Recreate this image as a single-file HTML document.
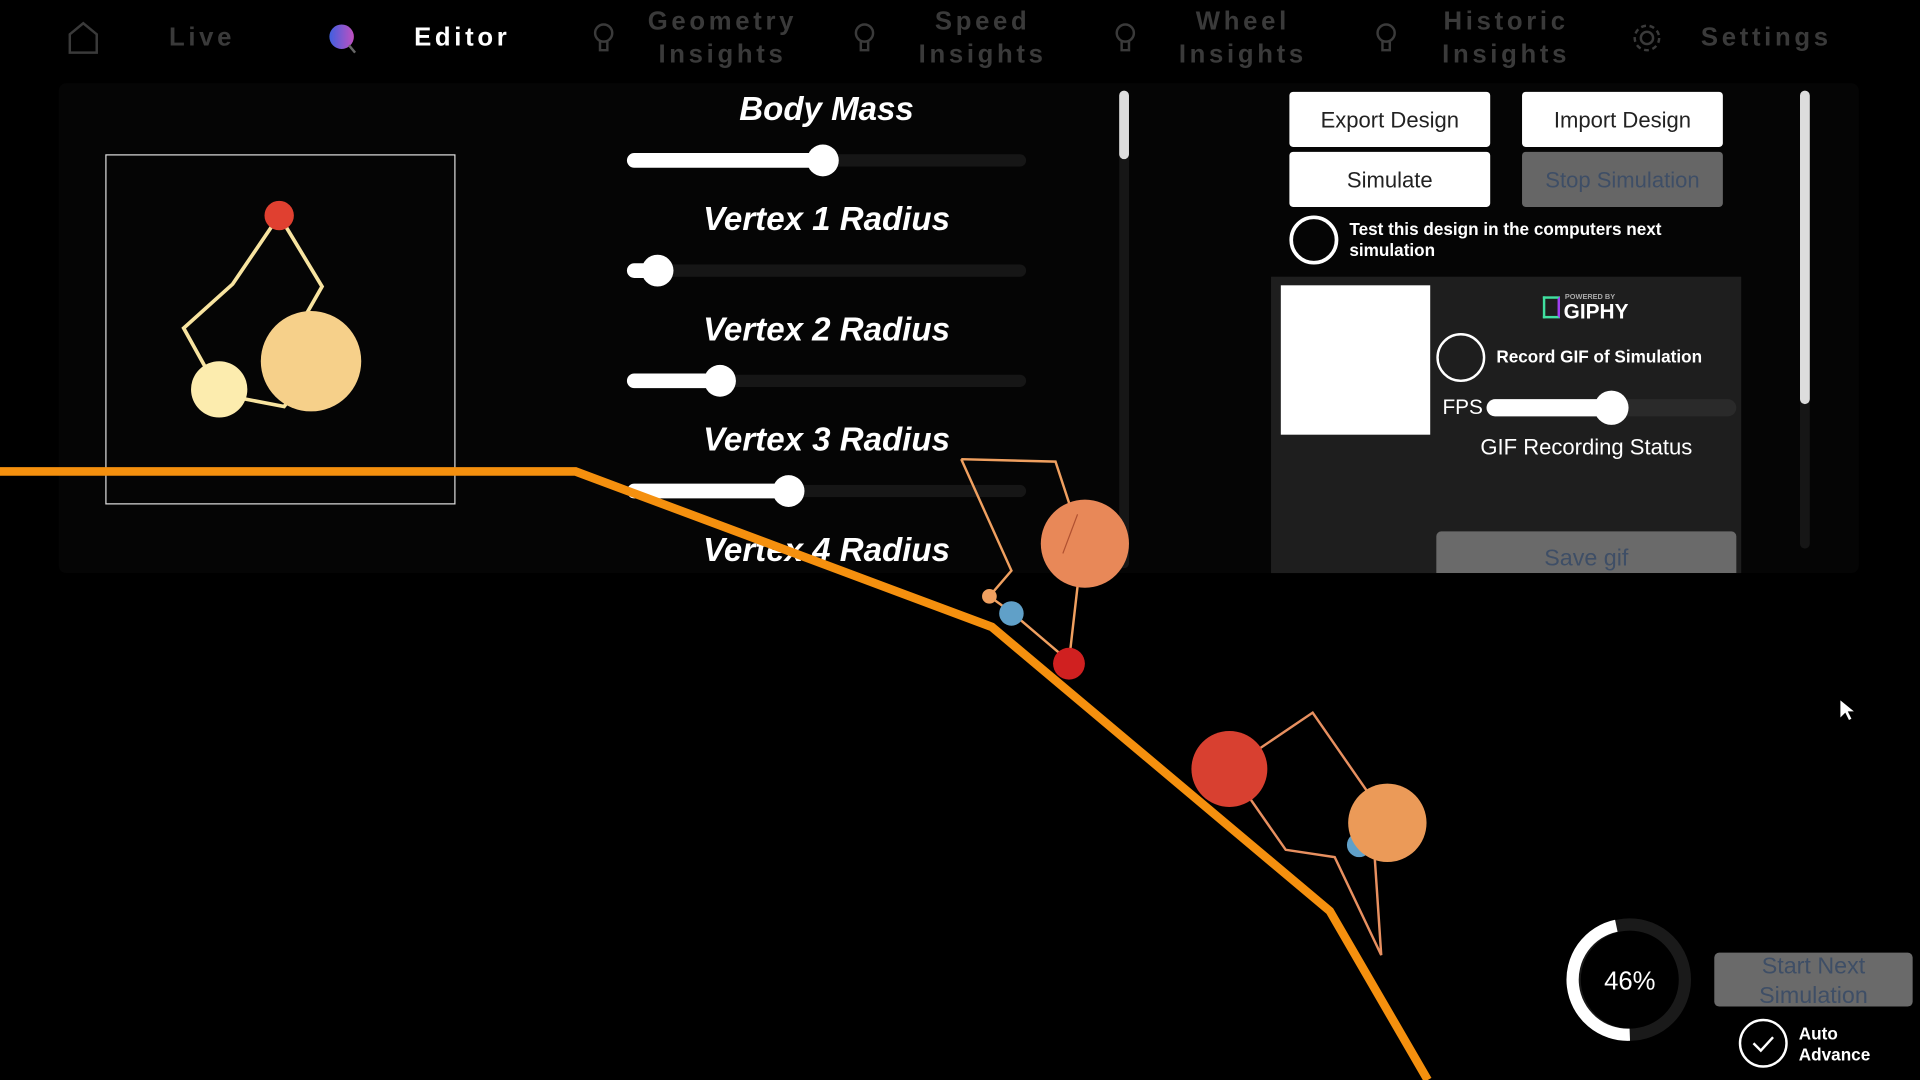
<!DOCTYPE html>
<html><head><meta charset="utf-8"><style>
html,body{margin:0;padding:0;background:#000;width:1920px;height:1080px;overflow:hidden}
#w{position:absolute;left:0;top:0;width:1568px;height:882px;transform:scale(1.22449);transform-origin:0 0;font-family:"Liberation Sans",sans-serif;color:#fff}
.a{position:absolute}
.nav{font-size:21px;font-weight:bold;letter-spacing:3px;color:#3a3a3a;text-align:center;line-height:27px}
.lbl{font-size:27px;font-style:italic;font-weight:bold;width:340px;text-align:center;left:505px}
.tr{background:#161616;height:10px;border-radius:5px;left:512px;width:326px}
.fl{background:#fff;height:12px;border-radius:6px;left:512px}
.kn{width:26px;height:26px;border-radius:50%;background:#fff}
.btn{background:#fff;color:#222;font-size:18px;text-align:center;border-radius:3px;line-height:46px;width:164px;height:45px}
</style></head><body><div id="w">
<svg class="a" style="left:55px;top:17px" width="26" height="28"><path d="M2 26V11L13 2L24 11V26Z" fill="none" stroke="#3a3a3a" stroke-width="2"/></svg>
<div class="a nav" style="left:120px;top:17px;width:90px">Live</div>
<svg class="a" style="left:266px;top:18px" width="28" height="28"><defs><linearGradient id="g" x1="0" x2="1"><stop offset="0" stop-color="#4060e0"/><stop offset="1" stop-color="#c050c0"/></linearGradient></defs><circle cx="13" cy="12" r="10" fill="url(#g)"/><line x1="19" y1="19" x2="24" y2="25" stroke="#666" stroke-width="2"/></svg>
<div class="a nav" style="left:330px;top:17px;width:95px;color:#fff">Editor</div>
<div class="a nav" style="left:520px;top:4px;width:140px">Geometry<br>Insights</div>
<div class="a nav" style="left:735px;top:4px;width:135px">Speed<br>Insights</div>
<div class="a nav" style="left:950px;top:4px;width:130px">Wheel<br>Insights</div>
<div class="a nav" style="left:1160px;top:4px;width:140px">Historic<br>Insights</div>
<div class="a nav" style="left:1380px;top:17px;width:125px">Settings</div>
<svg class="a" style="left:480px;top:16px" width="900" height="30" fill="none" stroke="#3a3a3a" stroke-width="2"><g><circle cx="13" cy="11" r="7"/><path d="M10 18v7h6v-7"/></g><g transform="translate(213)"><circle cx="13" cy="11" r="7"/><path d="M10 18v7h6v-7"/></g><g transform="translate(426)"><circle cx="13" cy="11" r="7"/><path d="M10 18v7h6v-7"/></g><g transform="translate(639)"><circle cx="13" cy="11" r="7"/><path d="M10 18v7h6v-7"/></g><g transform="translate(852)"><circle cx="13" cy="15" r="5"/><circle cx="13" cy="15" r="10" stroke-dasharray="4 3"/></g></svg>
<div class="a" style="left:48px;top:68px;width:1470px;height:400px;background:#050505;border-radius:6px"></div>
<div class="a" style="left:86px;top:126px;width:284px;height:284px;border:1px solid #ddd"></div>
<svg class="a" style="left:86px;top:126px" width="286" height="286"><polyline points="142,50 177,108 153,150 168,178 146,206 94,196 64,142 104,106 142,50" fill="none" stroke="#f8e4a0" stroke-width="3"/><circle cx="168" cy="169" r="41" fill="#f6d08a"/><circle cx="93" cy="192" r="23" fill="#fcecae"/><circle cx="142" cy="50" r="12" fill="#e04030"/></svg>
<div class="a lbl" style="top:74px">Body Mass</div>
<div class="a tr" style="top:126px"></div><div class="a fl" style="top:125px;width:160px"></div><div class="a kn" style="left:659px;top:118px"></div>
<div class="a lbl" style="top:164px">Vertex 1 Radius</div>
<div class="a tr" style="top:216px"></div><div class="a fl" style="top:215px;width:25px"></div><div class="a kn" style="left:524px;top:208px"></div>
<div class="a lbl" style="top:254px">Vertex 2 Radius</div>
<div class="a tr" style="top:306px"></div><div class="a fl" style="top:305px;width:76px"></div><div class="a kn" style="left:575px;top:298px"></div>
<div class="a lbl" style="top:344px">Vertex 3 Radius</div>
<div class="a tr" style="top:396px"></div><div class="a fl" style="top:395px;width:132px"></div><div class="a kn" style="left:631px;top:388px"></div>
<div class="a lbl" style="top:434px;height:32px;overflow:hidden">Vertex 4 Radius</div>
<div class="a" style="left:914px;top:74px;width:8px;height:390px;background:#161616;border-radius:4px"></div>
<div class="a" style="left:914px;top:74px;width:8px;height:56px;background:#ddd;border-radius:4px"></div>
<div class="a btn" style="left:1053px;top:75px">Export Design</div>
<div class="a btn" style="left:1243px;top:75px">Import Design</div>
<div class="a btn" style="left:1053px;top:124px">Simulate</div>
<div class="a btn" style="left:1243px;top:124px;background:#666;color:#3e4e66">Stop Simulation</div>
<div class="a" style="left:1053px;top:176px;width:40px;height:40px;border:3px solid #fff;border-radius:50%;box-sizing:border-box"></div>
<div class="a" style="left:1102px;top:179px;font-size:14px;font-weight:bold;line-height:17px;width:280px">Test this design in the computers next simulation</div>
<div class="a" style="left:1470px;top:74px;width:8px;height:374px;background:#161616;border-radius:4px"></div>
<div class="a" style="left:1470px;top:74px;width:8px;height:256px;background:#ddd;border-radius:4px"></div>
<div class="a" style="left:1038px;top:226px;width:384px;height:242px;background:#1e1e1e;overflow:hidden">
 <div class="a" style="left:8px;top:7px;width:122px;height:122px;background:#fff"></div>
 <div class="a" style="left:222px;top:16px;width:14px;height:18px;border:2px solid #40e0a0;border-right-color:#a040f0;box-sizing:border-box"></div>
 <div class="a" style="left:240px;top:14px;font-size:6px;font-weight:bold;color:#aaa">POWERED BY</div>
 <div class="a" style="left:239px;top:19px;font-size:17px;font-weight:bold">GIPHY</div>
 <div class="a" style="left:135px;top:46px;width:40px;height:40px;border:2px solid #fff;border-radius:50%;box-sizing:border-box"></div>
 <div class="a" style="left:184px;top:57px;font-size:14px;font-weight:bold">Record GIF of Simulation</div>
 <div class="a" style="left:140px;top:97px;font-size:17px">FPS</div>
 <div class="a" style="left:176px;top:100px;width:204px;height:14px;background:#2a2a2a;border-radius:7px"></div>
 <div class="a" style="left:176px;top:100px;width:100px;height:14px;background:#fff;border-radius:7px"></div>
 <div class="a" style="left:264px;top:93px;width:28px;height:28px;background:#fff;border-radius:50%"></div>
 <div class="a" style="left:145px;top:129px;width:225px;text-align:center;font-size:18px">GIF Recording Status</div>
 <div class="a" style="left:135px;top:208px;width:245px;height:50px;background:#6a6a6a;border-radius:4px;color:#3e4e66;font-size:19px;text-align:center;line-height:46px">Save gif</div>
</div>
<svg class="a" style="left:0;top:0" width="1568" height="882">
<polyline points="0,385 470,385 810,512 1086,744 1166,882" fill="none" stroke="#f5900e" stroke-width="7"/>
<polyline points="785,375 862,377 884,444 873,540 826,500 808,487 826,466 785,375" fill="none" stroke="#f0a060" stroke-width="2"/>
<circle cx="886" cy="444" r="36" fill="#e88858"/><line x1="868" y1="452" x2="880" y2="420" stroke="#b05030"/>
<circle cx="826" cy="501" r="10" fill="#60a0c8"/><circle cx="808" cy="487" r="6" fill="#f0a060"/>
<circle cx="873" cy="542" r="13" fill="#d02020"/>
<polyline points="1004,628 1072,582 1133,670 1122,690 1128,780 1090,700 1050,694 1004,628" fill="none" stroke="#e89060" stroke-width="2"/>
<circle cx="1004" cy="628" r="31" fill="#d84030"/>
<circle cx="1110" cy="690" r="10" fill="#60a0c8"/>
<circle cx="1133" cy="672" r="32" fill="#eb9a58"/>
<circle cx="1331" cy="800" r="45" fill="none" stroke="#1a1a1a" stroke-width="10"/>
<path d="M1331 845 A45 45 0 0 1 1320 756" fill="none" stroke="#fff" stroke-width="10"/>
<text x="1331" y="808" fill="#fff" font-size="21" text-anchor="middle" font-family="Liberation Sans">46%</text>
<circle cx="1440" cy="852" r="19" fill="none" stroke="#fff" stroke-width="2"/>
<path d="M1432 852l6 6l10 -11" fill="none" stroke="#fff" stroke-width="2"/>
<path d="M1503 572v14l4-4l3 6l2-1l-3-6h5z" fill="#fff"/>
</svg>
<div class="a" style="left:1400px;top:778px;width:162px;height:44px;background:#6a6a6a;border-radius:4px;color:#3e4e66;font-size:19px;text-align:center;line-height:24px">Start Next<br>Simulation</div>
<div class="a" style="left:1469px;top:836px;font-size:14px;font-weight:bold;line-height:17px">Auto<br>Advance</div>
</div></body></html>
